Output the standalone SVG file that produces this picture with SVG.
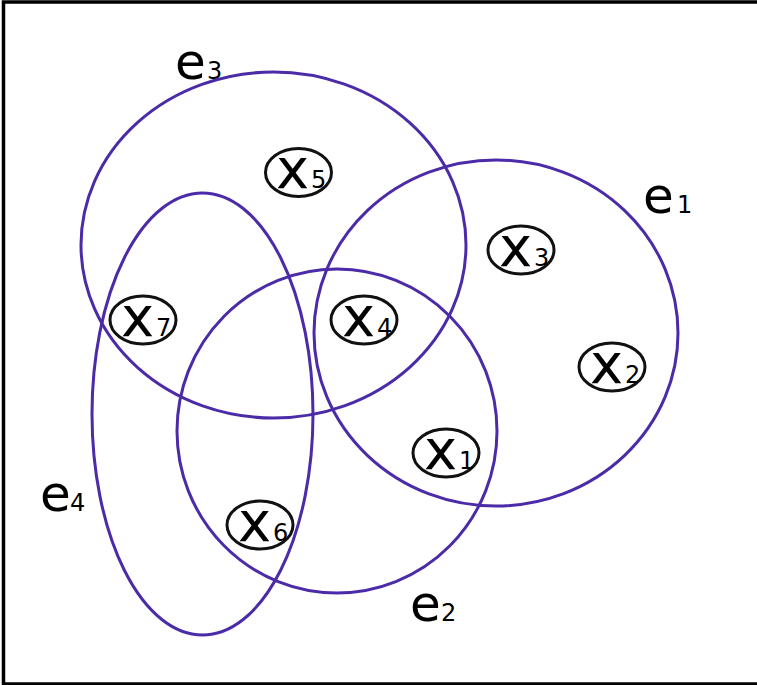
<svg xmlns="http://www.w3.org/2000/svg" width="757" height="685" viewBox="0 0 757 685">
<style>
.edge{fill:none;stroke:#4b2ba8;stroke-width:3}
.node{fill:#fff;stroke:#111;stroke-width:3}
.t{font-family:"DejaVu Sans",sans-serif;fill:#000}
.big{font-size:56px}
.sub{font-size:24px}
.lab{font-size:50px}
</style>
<rect x="3.5" y="2" width="760" height="682" fill="#fff" stroke="#000" stroke-width="3.5"/>
<g id="hyperedges">
<ellipse id="e3" class="edge" cx="273.5" cy="245" rx="192.5" ry="173"/>
<ellipse id="e1" class="edge" cx="496" cy="333" rx="182" ry="173"/>
<ellipse id="e2" class="edge" cx="337" cy="431" rx="160" ry="162"/>
<ellipse id="e4" class="edge" cx="202.5" cy="414" rx="110.5" ry="221"/>
</g>
<g id="labels">
<text class="t lab" x="175" y="79">e<tspan class="sub" x="207">3</tspan></text>
<text class="t lab" x="643" y="213">e<tspan class="sub" x="677">1</tspan></text>
<text class="t lab" x="410" y="621">e<tspan class="sub" x="441">2</tspan></text>
<text class="t lab" x="40" y="511">e<tspan class="sub" x="70">4</tspan></text>
</g>
<g id="x5"><ellipse class="node" cx="298.5" cy="172.5" rx="33" ry="24"/><text class="t big" x="276" y="188">x<tspan class="sub" x="311">5</tspan></text></g>
<g id="x3"><ellipse class="node" cx="521" cy="250" rx="33" ry="24"/><text class="t big" x="499" y="266">x<tspan class="sub" x="534">3</tspan></text></g>
<g id="x7"><ellipse class="node" cx="143" cy="320" rx="33" ry="24"/><text class="t big" x="121" y="336">x<tspan class="sub" x="156">7</tspan></text></g>
<g id="x4"><ellipse class="node" cx="364" cy="320" rx="33" ry="24"/><text class="t big" x="342" y="336">x<tspan class="sub" x="377">4</tspan></text></g>
<g id="x2"><ellipse class="node" cx="612" cy="367" rx="33" ry="24"/><text class="t big" x="590" y="383">x<tspan class="sub" x="625">2</tspan></text></g>
<g id="x1"><ellipse class="node" cx="446" cy="453" rx="33" ry="24"/><text class="t big" x="424" y="469">x<tspan class="sub" x="459">1</tspan></text></g>
<g id="x6"><ellipse class="node" cx="260" cy="525" rx="33" ry="24"/><text class="t big" x="238" y="541">x<tspan class="sub" x="273">6</tspan></text></g>
</svg>
